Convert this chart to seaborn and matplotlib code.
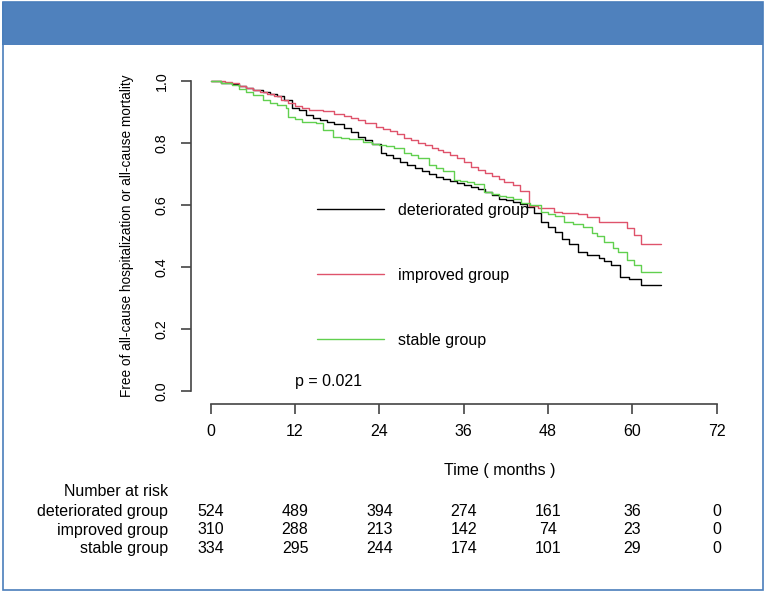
import matplotlib
matplotlib.use("Agg")
import matplotlib.pyplot as plt
import matplotlib.transforms as mtransforms
from matplotlib.patches import Rectangle
import pandas as pd
import seaborn as sns

# groups and colours (R 4 default palette)
groups = ["deteriorated group", "improved group", "stable group"]
colors = ["#000000", "#DF536B", "#61D04F"]

# Kaplan-Meier steps (months, survival)
times_det = [0, 1.5, 3, 4, 5, 6, 7.5, 8.5, 9.5, 10.5,
             11.5, 12.5, 13.5, 14.5, 15.5, 16.5, 17.5, 19, 20, 21,
             22, 23, 24.2, 25, 26, 27, 28, 29, 30, 31,
             32, 33, 34, 35, 36, 37, 38, 39, 40, 41,
             42, 43, 44, 45, 46, 47, 48, 49, 50, 51,
             52.3, 53.5, 55.2, 56, 57, 58.2, 59.5, 61.2, 64]
surv_det = [1.0, .995, .99, .985, .977, .972, .966, .958, .95, .94,
            .913, .905, .89, .882, .875, .868, .862, .848, .835, .82,
            .81, .797, .768, .76, .75, .74, .73, .72, .71, .70,
            .69, .683, .677, .67, .663, .658, .65, .642, .632, .62,
            .615, .61, .603, .594, .574, .545, .53, .513, .49, .475,
            .448, .44, .429, .42, .406, .368, .36, .342, .342]

times_imp = [0, 2, 3, 4, 5, 6, 7, 8, 9, 10,
             11, 12, 13, 14, 15, 16, 17.5, 19, 20, 21,
             22, 23.5, 24.5, 25.5, 26.5, 27.5, 28.5, 29.5, 30.5, 31.5,
             32.3, 33, 34, 35, 36, 37, 38, 39, 40, 41,
             41.8, 43, 44, 45.3, 46.5, 48.9, 50, 52.3, 53.5, 55.2,
             59.2, 60.2, 61.2, 64]
surv_imp = [1.0, .997, .992, .985, .977, .972, .965, .958, .95, .94,
            .93, .919, .913, .908, .905, .903, .895, .888, .881, .875,
            .865, .852, .845, .838, .828, .816, .81, .80, .793, .785,
            .777, .77, .76, .75, .738, .723, .713, .703, .693, .683,
            .674, .665, .645, .597, .59, .577, .574, .571, .56, .545,
            .526, .503, .474, .474]

times_stb = [0, 1.5, 3, 4, 5, 6, 7.4, 8.5, 9.5, 10.7,
             11, 12, 13, 15, 16, 17.4, 18.5, 19.7, 21.7, 23,
             24, 25, 26.1, 27.5, 28.5, 29.5, 31, 32, 33, 34.6,
             35.5, 36.5, 37.5, 38.9, 40, 41, 42, 43, 44.2, 45.5,
             47, 48, 49, 50.2, 51.5, 53, 54.2, 55, 56, 57.3,
             58, 59.2, 60.2, 61.2, 64]
surv_stb = [1.0, .995, .987, .975, .965, .955, .939, .93, .922, .913,
            .884, .877, .868, .865, .842, .819, .816, .813, .803, .798,
            .794, .79, .784, .768, .76, .75, .729, .72, .71, .681,
            .677, .673, .668, .642, .636, .63, .625, .618, .606, .6,
            .577, .57, .563, .545, .54, .53, .51, .5, .481, .461,
            .45, .423, .406, .384, .384]

# number at risk table
risk_times = [0, 12, 24, 36, 48, 60, 72]
risk_det = [524, 489, 394, 274, 161, 36, 0]
risk_imp = [310, 288, 213, 142, 74, 23, 0]
risk_stb = [334, 295, 244, 174, 101, 29, 0]

p_text = "p = 0.021"

# long table for seaborn
frames = []
for g, t, s in zip(groups, [times_det, times_imp, times_stb],
                   [surv_det, surv_imp, surv_stb]):
    frames.append(pd.DataFrame({"time": t, "surv": s, "group": g}))
df = pd.concat(frames, ignore_index=True)

sns.set_style("white")
plt.rcParams["font.family"] = ["Liberation Sans", "DejaVu Sans"]
plt.rcParams["text.color"] = "black"
plt.rcParams["axes.labelcolor"] = "black"
plt.rcParams["xtick.labelcolor"] = "black"
plt.rcParams["ytick.labelcolor"] = "black"

fig = plt.figure(figsize=(7.65, 5.92), dpi=100)
ax = fig.add_axes([0.2754, 0.3395, 0.6615, 0.5237])

sns.lineplot(data=df, x="time", y="surv", hue="group", hue_order=groups,
             palette=colors, estimator=None, sort=False,
             drawstyle="steps-post", linewidth=1.0, ax=ax, legend=False)
for ln in ax.get_lines():
    ln.set_clip_on(False)

ax.set_xlim(0, 72)
ax.set_ylim(0, 1)
ax.set_xticks(risk_times)
ax.set_yticks([0, 0.2, 0.4, 0.6, 0.8, 1.0])
ax.set_yticklabels(["0.0", "0.2", "0.4", "0.6", "0.8", "1.0"])

# R-style detached axes
axis_col = "#444444"
for side in ["top", "right"]:
    ax.spines[side].set_visible(False)
ax.spines["left"].set_position(("outward", 14.2))
ax.spines["bottom"].set_position(("outward", 9))
ax.spines["left"].set_bounds(0, 1)
ax.spines["bottom"].set_bounds(0, 72)
for side in ["left", "bottom"]:
    ax.spines[side].set_color(axis_col)
    ax.spines[side].set_linewidth(1.2)
ax.tick_params(axis="both", direction="out", length=7, width=1.2,
               color=axis_col, labelcolor="black", left=True, bottom=True)
ax.tick_params(axis="x", labelsize=11.5, pad=8)
ax.tick_params(axis="y", labelsize=10.3, pad=9, labelrotation=90)
for lab in ax.get_yticklabels():
    lab.set_va("center")

ax.set_ylabel("Free of all-cause hospitalization or all-cause mortality",
              fontsize=9.8, va="center")
ax.yaxis.set_label_coords(-0.1654, 0.5)
ax.set_xlabel("Time ( months )", fontsize=11.5, va="center")
ax.xaxis.set_label_coords(0.5717, -0.2548)

# legend inside the plot, no frame
handles = ax.get_lines()[:3]
ax.legend(handles, groups, loc="upper left", frameon=False, fontsize=11.5,
          handlelength=4.2, handletextpad=0.9, labelspacing=3.12,
          borderpad=0, borderaxespad=0,
          bbox_to_anchor=(317 / 765, 1 - 203 / 592),
          bbox_transform=fig.transFigure)

ax.text(12.0, 0.03, p_text, fontsize=11.5, ha="left", va="center")

# number at risk table below the axis
trans = mtransforms.blended_transform_factory(ax.transData, fig.transFigure)
fig.text(168 / 765, 1 - 492 / 592, "Number at risk", fontsize=11.5,
         ha="right", va="center")
row_y = [511.5, 530, 548.5]
for g, counts, yy in zip(groups, [risk_det, risk_imp, risk_stb], row_y):
    fig.text(168 / 765, 1 - yy / 592, g, fontsize=11.5, ha="right", va="center")
    for t, n in zip(risk_times, counts):
        ax.text(t, 1 - yy / 592, str(n), transform=trans, fontsize=11.5,
                ha="center", va="center", clip_on=False)

# blue header band and frame
fig.patches.append(Rectangle((2 / 765, 1 - 45 / 592), 761 / 765, 43 / 592,
                             transform=fig.transFigure, facecolor="#4F81BD",
                             edgecolor="none", zorder=0))
fig.patches.append(Rectangle((3 / 765, 2 / 592), 759.5 / 765, 588 / 592,
                             transform=fig.transFigure, facecolor="none",
                             edgecolor="#4A7EBB", linewidth=1.2, zorder=1))

fig.savefig("out.png", dpi=100)
